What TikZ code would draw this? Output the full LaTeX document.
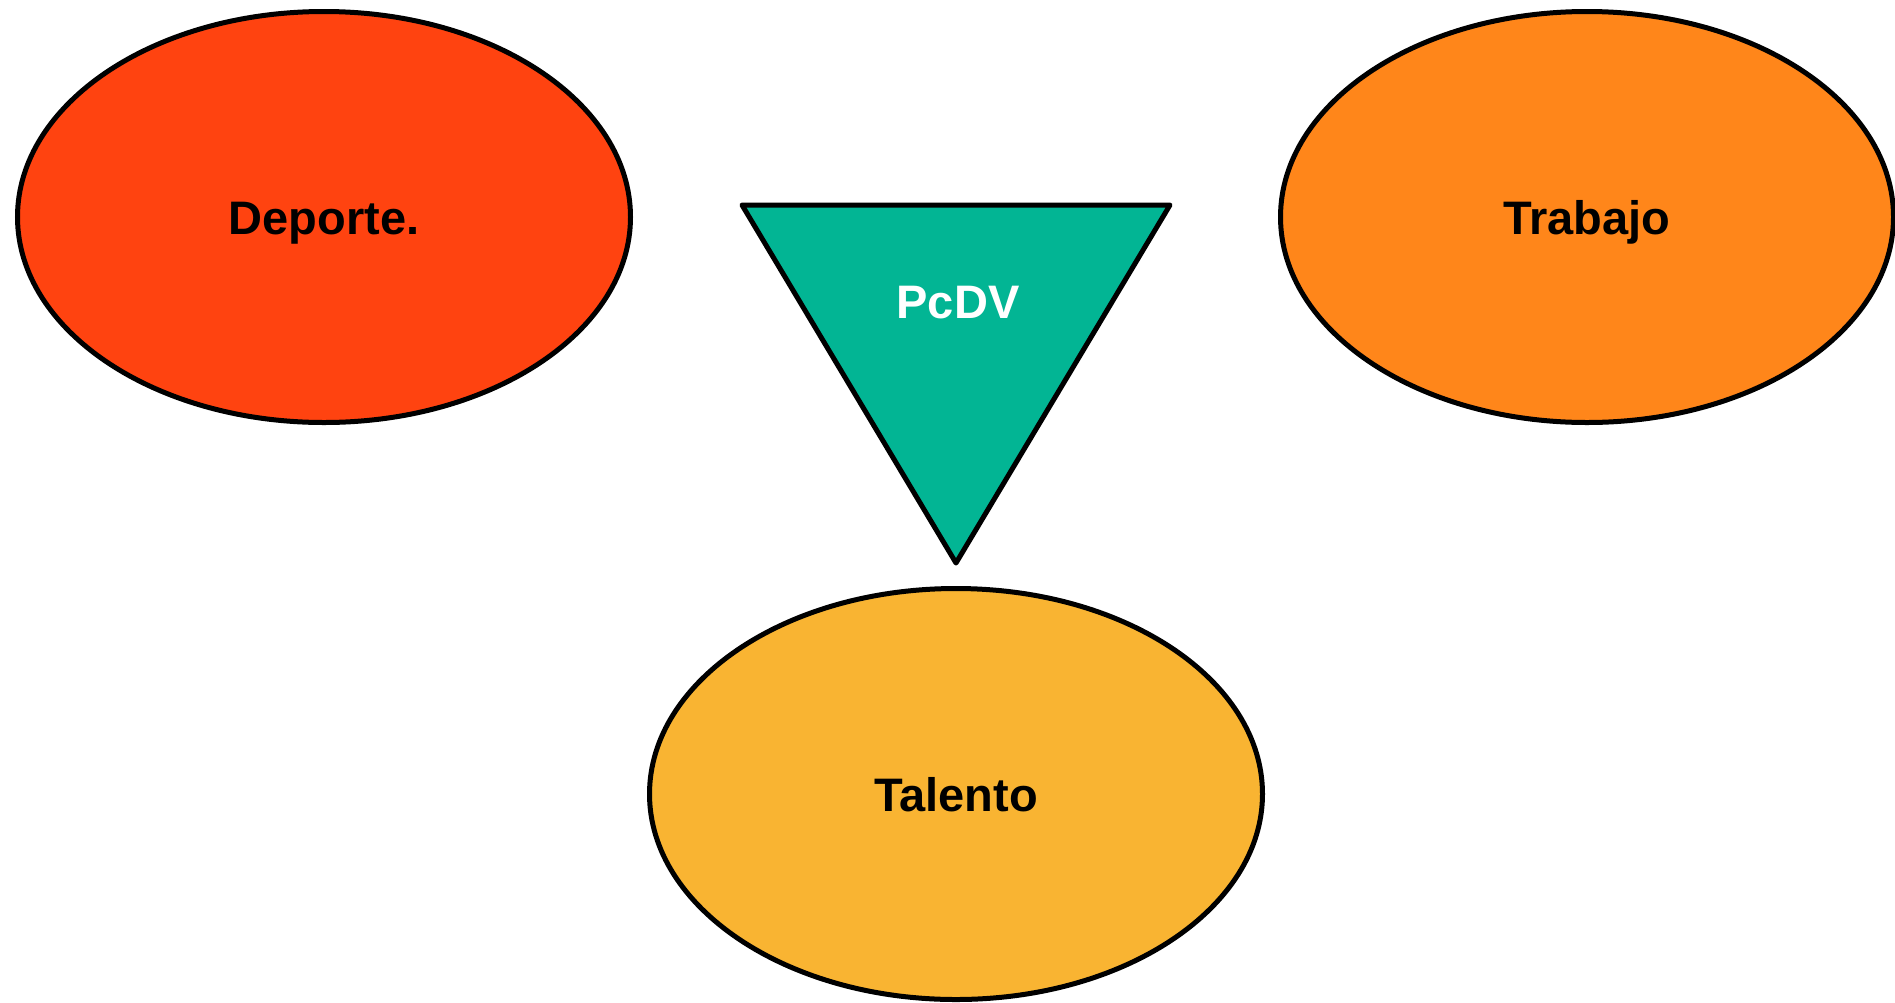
\documentclass[tikz,border=0pt]{standalone}
\usepackage{fontspec}
\setmainfont{Liberation Sans}
\usetikzlibrary{shapes.geometric}
\definecolor{deportecolor}{RGB}{255,67,16}
\definecolor{trabajocolor}{RGB}{255,134,26}
\definecolor{talentocolor}{RGB}{249,180,50}
\definecolor{pcdvcolor}{RGB}{2,181,148}
\begin{document}
\begin{tikzpicture}[x=1pt,y=-1pt,
 label text/.style={font=\fontsize{47}{56}\selectfont\bfseries,text height=34pt,text depth=0pt},
 bubble/.style={ellipse,draw=black,line width=5pt,minimum width=613pt,minimum height=411pt,inner sep=0pt,label text}]
 \useasboundingbox (0,0) rectangle (1895,1002);

 %points on triangle
 \coordinate (P) at (742,205); %top left
 \coordinate (Q) at (1170,205); %top right
 \coordinate (R) at (956,563); %bottom tip

 %draw triangle
 \filldraw [fill=pcdvcolor, line width=5pt, line join=round] (P) -- (Q) -- (R) -- cycle;
 \node [label text, text=white] (pcdv) at (958,301) {PcDV};

 %draw the three ellipses
 \node [bubble, fill=deportecolor] (deporte) at (324,217) {Deporte.};
 \node [bubble, fill=trabajocolor] (trabajo) at (1587,217) {Trabajo};
 \node [bubble, fill=talentocolor] (talento) at (956,794) {Talento};
\end{tikzpicture}
\end{document}
